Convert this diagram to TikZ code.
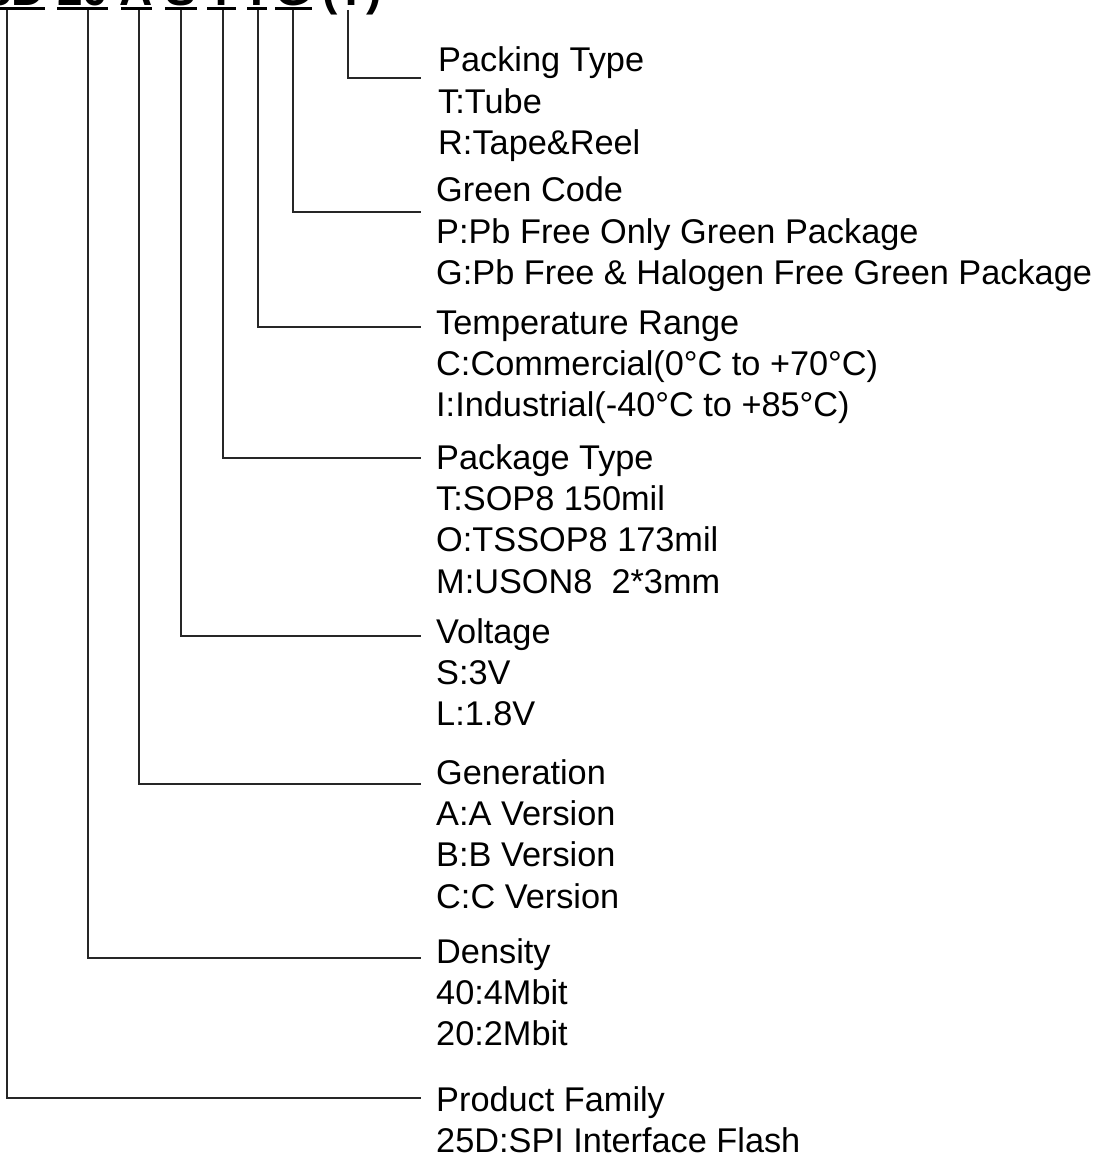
\documentclass[tikz,border=0pt]{standalone}
\usepackage{fontspec}
\setmainfont{Liberation Sans}
\begin{document}
\begin{tikzpicture}[x=1pt,y=-1pt,
  code/.style={font=\fontsize{46}{50}\selectfont\bfseries, inner sep=0pt, anchor=base},
  label/.style={font=\fontsize{34.3}{41.3}\selectfont, inner sep=0pt, anchor=base west, align=left},
  lead/.style={line width=1.2pt, draw=black!85},
  uline/.style={line width=3pt}]
\useasboundingbox (0,0) rectangle (1096,1155);
\clip (0,0) rectangle (1096,1155);
% code letters
\node[code] (k1) at (3,6) {25D};
\node[code] (k2) at (83,6) {20};
\node[code] (k3) at (136.5,6) {A};
\node[code] (k4) at (181,6) {S};
\node[code] (k5) at (221.5,6) {T};
\node[code] (k6) at (257,6) {I};
\node[code] (k7) at (293.5,6) {G};
\node[code] (k8) at (352,6) {(T)};
% underlines
\draw[uline] (-40,8.5) -- (45,8.5);
\draw[uline] (57,8.5) -- (108,8.5);
\draw[uline] (121,8.5) -- (152,8.5);
\draw[uline] (165,8.5) -- (197,8.5);
\draw[uline] (207,8.5) -- (236,8.5);
\draw[uline] (247,8.5) -- (267,8.5);
\draw[uline] (275,8.5) -- (312,8.5);
% attach points
\coordinate (c1) at (7,10);
\coordinate (c2) at (88,10);
\coordinate (c3) at (139,10);
\coordinate (c4) at (181,10);
\coordinate (c5) at (223,10);
\coordinate (c6) at (258,10);
\coordinate (c7) at (293,10);
\coordinate (c8) at (348,10);
% line ends
\coordinate (e8) at (421,78);
\coordinate (e7) at (421,212);
\coordinate (e6) at (421,327);
\coordinate (e5) at (421,458);
\coordinate (e4) at (421,636);
\coordinate (e3) at (421,784);
\coordinate (e2) at (421,958);
\coordinate (e1) at (421,1098);
% labels (anchored at the baseline of their last line)
\node[label] (l8) at (438,154.6) {Packing Type\\T:Tube\\R:Tape\&Reel};
\node[label] (l7) at (436,284.6) {Green Code\\P:Pb Free Only Green Package\\G:Pb Free \& Halogen Free Green Package};
\node[label] (l6) at (436,416.6) {Temperature Range\\C:Commercial(0°C to +70°C)\\I:Industrial(-40°C to +85°C)};
\node[label] (l5) at (436,593) {Package Type\\T:SOP8 150mil\\O:TSSOP8 173mil\\M:USON8\ \ 2*3mm};
\node[label] (l4) at (436,725.6) {Voltage\\S:3V\\L:1.8V};
\node[label] (l3) at (436,908) {Generation\\A:A Version\\B:B Version\\C:C Version};
\node[label] (l2) at (436,1045.6) {Density\\40:4Mbit\\20:2Mbit};
\node[label] (l1) at (436,1152.3) {Product Family\\25D:SPI Interface Flash};
% leaders
\foreach \i in {1,...,8} \draw[lead] (c\i) |- (e\i);
\end{tikzpicture}
\end{document}
